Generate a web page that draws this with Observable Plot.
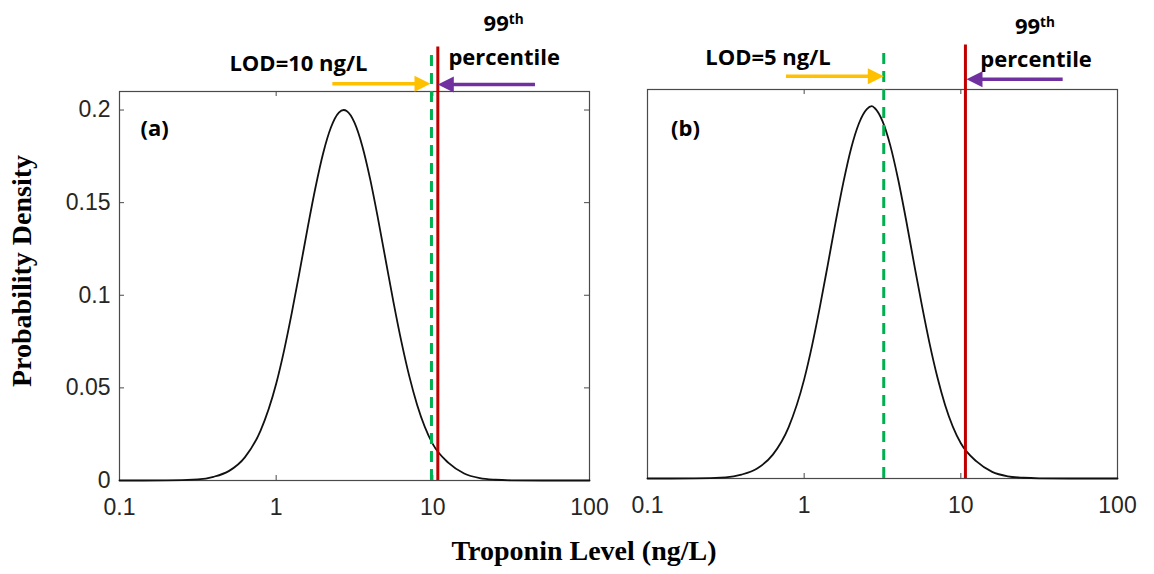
<!DOCTYPE html>
<html><head><meta charset="utf-8">
<script src="https://cdn.jsdelivr.net/npm/d3@7"></script>
<script src="https://cdn.jsdelivr.net/npm/@observablehq/plot@0.6"></script>
<style>
body{margin:0;background:#fff;}
#fig{position:relative;width:1154px;height:574px;background:#fff;overflow:hidden;}
</style></head><body><div id="fig"></div>
<script>
// ---- data ----
const xTicks = [0.1, 1, 10, 100];
const yTicks = [0, 0.05, 0.1, 0.15, 0.2];

const troponin = [0.1, 0.2, 0.316, 0.398, 0.501, 0.631, 0.794, 1, 1.122, 1.259, 1.413, 1.585, 1.778, 1.995, 2.239, 2.512, 2.70, 2.818, 3.162, 3.548, 3.981, 4.467, 5.012, 5.623, 6.31, 7.079, 7.943, 10, 12.59, 15.85, 19.95, 25.12, 31.62, 50.1, 100];
const densityA = [0, 0.00002, 0.0006, 0.0020, 0.0052, 0.0125, 0.0268, 0.0522, 0.0700, 0.0906, 0.1130, 0.1360, 0.1578, 0.1767, 0.1907, 0.1986, 0.2000, 0.1995, 0.1932, 0.1805, 0.1627, 0.1414, 0.1185, 0.0958, 0.0747, 0.0562, 0.0408, 0.0196, 0.0095, 0.0038, 0.0013, 0.0004, 0.0001, 0, 0];
const densityB = [0, 0.00002, 0.0006, 0.0021, 0.0054, 0.0129, 0.0275, 0.0535, 0.0716, 0.0925, 0.1151, 0.1381, 0.1597, 0.1783, 0.1918, 0.1994, 0.2010, 0.2000, 0.1929, 0.1797, 0.1614, 0.1398, 0.1167, 0.0941, 0.0731, 0.0548, 0.0396, 0.0190, 0.0092, 0.0036, 0.0012, 0.0004, 0.0001, 0, 0];

const lodLine = {a: 9.8, b: 3.22};         // green dashed line (LOD)
const p99Line = {a: 10.76, b: 10.7};       // red line (99th percentile)
const lineTop = {lod: 0.233, p99: 0.234};

const arrowsA = [
  {from: 2.3, to: 9.66, y: 0.2142, dir: "right", color: "#FFC000"},
  {from: 45.2, to: 10.76, y: 0.2138, dir: "left", color: "#7030A0"}
];
const arrowsB = [
  {from: 0.771, to: 3.224, y: 0.2172, dir: "right", color: "#FFC000"},
  {from: 45.0, to: 10.87, y: 0.2156, dir: "left", color: "#7030A0"}
];
const labelsA = [
  {x: 1.388, y: 0.2251, text: "LOD=10 ng/L", anchor: "middle"},
  {x: 28.3, y: 0.2467, text: "99th", anchor: "middle"},
  {x: 28.55, y: 0.2282, text: "percentile", anchor: "middle"},
  {x: 0.136, y: 0.190, text: "(a)", anchor: "start"}
];
const labelsB = [
  {x: 0.5875, y: 0.2273, text: "LOD=5 ng/L", anchor: "middle"},
  {x: 29.7, y: 0.244, text: "99th", anchor: "middle"},
  {x: 30.2, y: 0.2262, text: "percentile", anchor: "middle"},
  {x: 0.1415, y: 0.1887, text: "(b)", anchor: "start"}
];

// ---- drawing ----
const frameColor = "#4a4a4a";
const headRight = {draw(ctx){ctx.moveTo(0,0);ctx.lineTo(-16,-8);ctx.lineTo(-16,8);ctx.closePath();}};
const headLeft = {draw(ctx){ctx.moveTo(0,0);ctx.lineTo(16,-8);ctx.lineTo(16,8);ctx.closePath();}};
const annFont = "'Open Sans', Lato, 'Liberation Sans', sans-serif";

function panel(cfg) {
  const H = 530;
  const frameW = cfg.width - cfg.ml - cfg.mr;
  const frameH = H - cfg.mt - cfg.mb;
  const curve = troponin.map((x, i) => ({x, y: cfg.density[i]}));
  const marks = [
    Plot.frame({stroke: frameColor, strokeWidth: 1.2}),
    Plot.ruleX(xTicks, {stroke: frameColor, insetTop: frameH - 5}),
    Plot.ruleX(xTicks, {stroke: frameColor, insetBottom: frameH - 5})
  ];
  if (cfg.yLabels) {
    marks.push(Plot.ruleY(yTicks, {stroke: frameColor, insetRight: frameW - 5}));
    marks.push(Plot.ruleY(yTicks, {stroke: frameColor, insetLeft: frameW - 5}));
  }
  marks.push(Plot.line(curve, {x: "x", y: "y", stroke: "#111", strokeWidth: 1.8, curve: "monotone-x"}));
  marks.push(Plot.ruleX([cfg.lod], {y1: 0, y2: lineTop.lod, stroke: "#00B050", strokeWidth: 3, strokeDasharray: "11,7"}));
  marks.push(Plot.ruleX([cfg.p99], {y1: 0, y2: lineTop.p99, stroke: "#C00000", strokeWidth: 3}));
  for (const a of cfg.arrows) {
    if (a.dir === "right") {
      marks.push(Plot.ruleY([a], {y: "y", x1: "from", x2: "to", stroke: a.color, strokeWidth: 3.5, insetRight: 10}));
      marks.push(Plot.dot([a], {x: "to", y: "y", r: 1, symbol: headRight, fill: a.color, stroke: "none"}));
    } else {
      marks.push(Plot.ruleY([a], {y: "y", x1: "to", x2: "from", stroke: a.color, strokeWidth: 3.5, insetLeft: 10}));
      marks.push(Plot.dot([a], {x: "to", y: "y", r: 1, symbol: headLeft, fill: a.color, stroke: "none"}));
    }
  }
  for (const t of cfg.labels) {
    marks.push(Plot.text([t], {x: "x", y: "y", text: "text", textAnchor: t.anchor, fontFamily: annFont, fontSize: 22, fontWeight: "bold", fill: "#000"}));
  }
  const plot = Plot.plot({
    width: cfg.width, height: H,
    marginLeft: cfg.ml, marginRight: cfg.mr, marginTop: cfg.mt, marginBottom: cfg.mb,
    style: {position: "absolute", left: cfg.left + "px", top: "0px", fontFamily: "'Liberation Sans', Arial, sans-serif", fontSize: "23px", color: "#262626", background: "transparent", overflow: "visible"},
    x: {type: "log", domain: [0.1, 100], ticks: xTicks, tickFormat: d => String(d), tickSize: 0, tickPadding: 18, label: null},
    y: cfg.yLabels
      ? {domain: [0, 0.21], ticks: yTicks, tickFormat: d => String(d), tickSize: 0, tickPadding: 9, label: null}
      : {domain: [0, 0.21], axis: null},
    marks
  });
  // superscript "th"
  plot.querySelectorAll("text").forEach(t => {
    if (t.textContent === "99th") {
      t.textContent = "99";
      const ts = document.createElementNS("http://www.w3.org/2000/svg", "tspan");
      ts.setAttribute("dy", "-0.45em");
      ts.setAttribute("font-size", "62%");
      ts.textContent = "th";
      t.appendChild(ts);
    }
  });
  return plot;
}

const fig = document.getElementById("fig");
fig.appendChild(panel({left: 0, width: 600, ml: 119, mr: 11, mt: 91, mb: 50, density: densityA, lod: lodLine.a, p99: p99Line.a, arrows: arrowsA, labels: labelsA, yLabels: true}));
fig.appendChild(panel({left: 600, width: 554, ml: 47, mr: 37, mt: 89, mb: 52, density: densityB, lod: lodLine.b, p99: p99Line.b, arrows: arrowsB, labels: labelsB, yLabels: false}));

// axis titles
const ns = "http://www.w3.org/2000/svg";
const ov = document.createElementNS(ns, "svg");
ov.setAttribute("width", 1154); ov.setAttribute("height", 574);
ov.style.position = "absolute"; ov.style.left = "0px"; ov.style.top = "0px"; ov.style.pointerEvents = "none";
const xt = document.createElementNS(ns, "text");
xt.setAttribute("x", 584); xt.setAttribute("y", 560);
xt.setAttribute("text-anchor", "middle");
xt.setAttribute("font-family", "'Liberation Serif', 'Times New Roman', serif");
xt.setAttribute("font-weight", "bold"); xt.setAttribute("font-size", "28");
xt.textContent = "Troponin Level (ng/L)";
ov.appendChild(xt);
const yt = document.createElementNS(ns, "text");
yt.setAttribute("transform", "translate(31,271) rotate(-90)");
yt.setAttribute("text-anchor", "middle");
yt.setAttribute("font-family", "'Liberation Serif', 'Times New Roman', serif");
yt.setAttribute("font-weight", "bold"); yt.setAttribute("font-size", "28");
yt.textContent = "Probability Density";
ov.appendChild(yt);
fig.appendChild(ov);
</script></body></html>
